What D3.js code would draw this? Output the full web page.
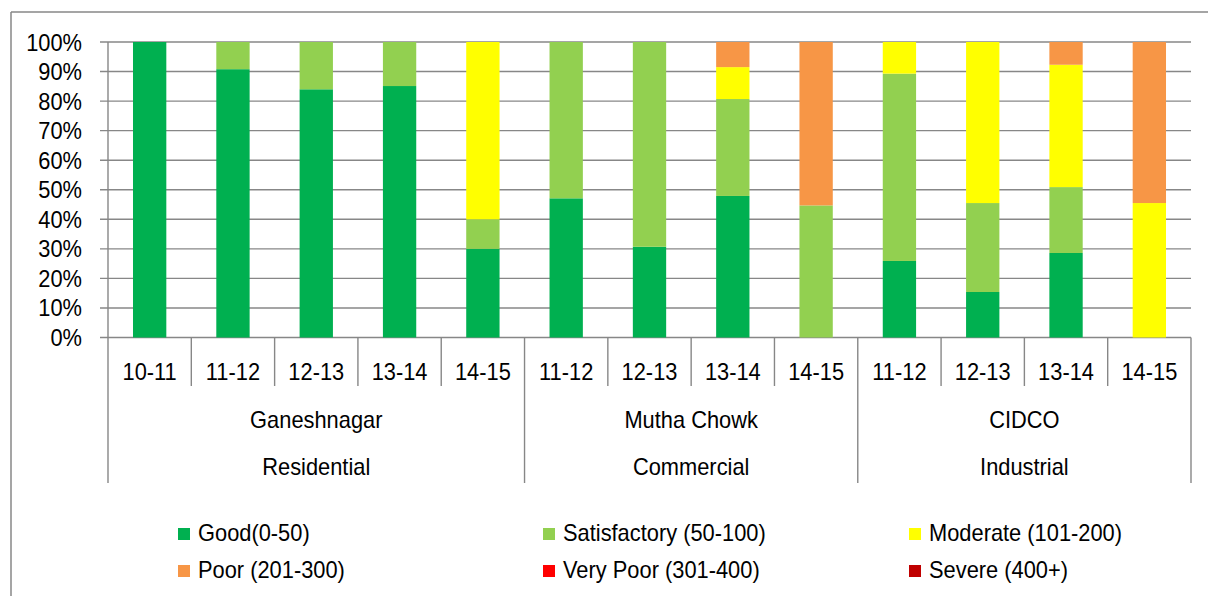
<!DOCTYPE html>
<html><head><meta charset="utf-8">
<script src="https://cdn.jsdelivr.net/npm/d3@7"></script>
<style>
html,body{margin:0;padding:0;background:#fff;}
svg{display:block;font-family:"Liberation Sans",Arial,sans-serif;}
</style></head>
<body>
<svg id="chart" width="1208" height="596"></svg>
<script>
// ---- data ----
const years = ["10-11","11-12","12-13","13-14","14-15","11-12","12-13","13-14","14-15","11-12","12-13","13-14","14-15"];
const locations = ["Ganeshnagar","Mutha Chowk","CIDCO"];
const zones = ["Residential","Commercial","Industrial"];
const groupSizes = [5,4,4];
const seriesNames = ["Good(0-50)","Satisfactory (50-100)","Moderate (101-200)","Poor (201-300)","Very Poor (301-400)","Severe (400+)"];
const seriesColors = ["#00B050","#92D050","#FFFF00","#F79646","#FF0000","#C00000"];
const good         = [100, 90.8, 84.0, 85.1, 30, 47.1, 30.7, 47.9, 0,    25.9, 15.4, 28.6, 0];
const satisfactory = [0,   9.2,  16.0, 14.9, 10, 52.9, 69.3, 32.8, 44.7, 63.4, 30.1, 22.3, 0];
const moderate     = [0,   0,    0,    0,    60, 0,    0,    10.8, 0,    10.7, 54.5, 41.4, 45.5];
const poor         = [0,   0,    0,    0,    0,  0,    0,    8.5,  55.3, 0,    0,    7.7,  54.5];
const veryPoor     = [0,0,0,0,0,0,0,0,0,0,0,0,0];
const severe       = [0,0,0,0,0,0,0,0,0,0,0,0,0];
const yTicks = [0,10,20,30,40,50,60,70,80,90,100];

// ---- build table ----
const keys = ["good","satisfactory","moderate","poor","veryPoor","severe"];
const cols = [good, satisfactory, moderate, poor, veryPoor, severe];
const table = years.map((y,i)=>{
  const r = {idx:i, year:y};
  keys.forEach((k,j)=>r[k]=cols[j][i]);
  return r;
});
const stacked = d3.stack().keys(keys)(table);

const svg = d3.select("#chart");
const GRID = "#878787";
const FS = 23;
const SX = 0.95;
// place text at (px,py) with slight horizontal condensing
const place = (sel, fx, fy) => sel.attr("x",0).attr("y",0)
  .attr("transform",(d,i)=>`translate(${fx(d,i)},${fy(d,i)}) scale(${SX},1)`)
  .attr("font-size",FS).attr("fill","#000");

// outer chart border
svg.append("line").attr("x1",11).attr("y1",12).attr("x2",1208).attr("y2",12).attr("stroke",GRID).attr("stroke-width",1.5);
svg.append("line").attr("x1",11).attr("y1",12).attr("x2",11).attr("y2",596).attr("stroke",GRID).attr("stroke-width",1.5);

const x0 = 108, x1 = 1191, yTop = 42, yBot = 337.5;
const x = d3.scaleBand().domain(d3.range(years.length)).range([x0,x1]).paddingInner(0.6).paddingOuter(0.3);
const y = d3.scaleLinear().domain([0,100]).range([yBot,yTop]);
const step = x.step();
const boundary = i => x(i) - step*0.3;

// gridlines + y ticks
svg.append("g").selectAll("line").data(yTicks).join("line")
  .attr("x1",x0-8).attr("x2",x1).attr("y1",d=>y(d)).attr("y2",d=>y(d))
  .attr("stroke",GRID).attr("stroke-width",1.4);
place(svg.append("g").selectAll("text").data(yTicks).join("text"), ()=>82, d=>y(d)+8.5)
  .attr("text-anchor","end").text(d=>d+"%");
// y axis line
svg.append("line").attr("x1",x0).attr("x2",x0).attr("y1",yTop).attr("y2",yBot).attr("stroke",GRID).attr("stroke-width",1.4);

// bars
svg.append("g").selectAll("g").data(stacked).join("g")
  .attr("fill",(d,i)=>seriesColors[i])
  .selectAll("rect").data(d=>d).join("rect")
  .attr("x",(d,i)=>x(i)).attr("width",x.bandwidth())
  .attr("y",d=>y(d[1])).attr("height",d=>Math.max(0,y(d[0])-y(d[1])));

// category axis: separators
const groupStarts = [0];
groupSizes.forEach((s,i)=>groupStarts.push(groupStarts[i]+s));
const allBounds = d3.range(years.length+1);
svg.append("g").selectAll("line").data(allBounds).join("line")
  .attr("x1",i=>i<years.length?boundary(i):x1).attr("x2",i=>i<years.length?boundary(i):x1)
  .attr("y1",yBot).attr("y2",i=>groupStarts.includes(i)?483:386)
  .attr("stroke",GRID).attr("stroke-width",1.4);

// year labels
place(svg.append("g").selectAll("text").data(years).join("text"), (d,i)=>x(i)+x.bandwidth()/2, ()=>379.5)
  .attr("text-anchor","middle").text(d=>d);

// group labels
const gCenter = i => {
  const a = boundary(groupStarts[i]);
  const b = groupStarts[i+1]<years.length ? boundary(groupStarts[i+1]) : x1;
  return (a+b)/2;
};
place(svg.append("g").selectAll("text").data(locations).join("text"), (d,i)=>gCenter(i), ()=>428)
  .attr("text-anchor","middle").text(d=>d);
place(svg.append("g").selectAll("text").data(zones).join("text"), (d,i)=>gCenter(i), ()=>475)
  .attr("text-anchor","middle").text(d=>d);

// legend
const legX = [178,543,909];
const legY = [541,578];
const leg = svg.append("g").selectAll("g").data(seriesNames).join("g")
  .attr("transform",(d,i)=>`translate(${legX[i%3]},${legY[Math.floor(i/3)]})`);
leg.append("rect").attr("x",0).attr("y",-13).attr("width",12).attr("height",12).attr("fill",(d,i)=>seriesColors[i]);
leg.append("text").attr("x",0).attr("y",0).attr("transform",`translate(20,0) scale(${SX},1)`)
  .attr("font-size",FS).attr("fill","#000").text(d=>d);
</script>
</body></html>
